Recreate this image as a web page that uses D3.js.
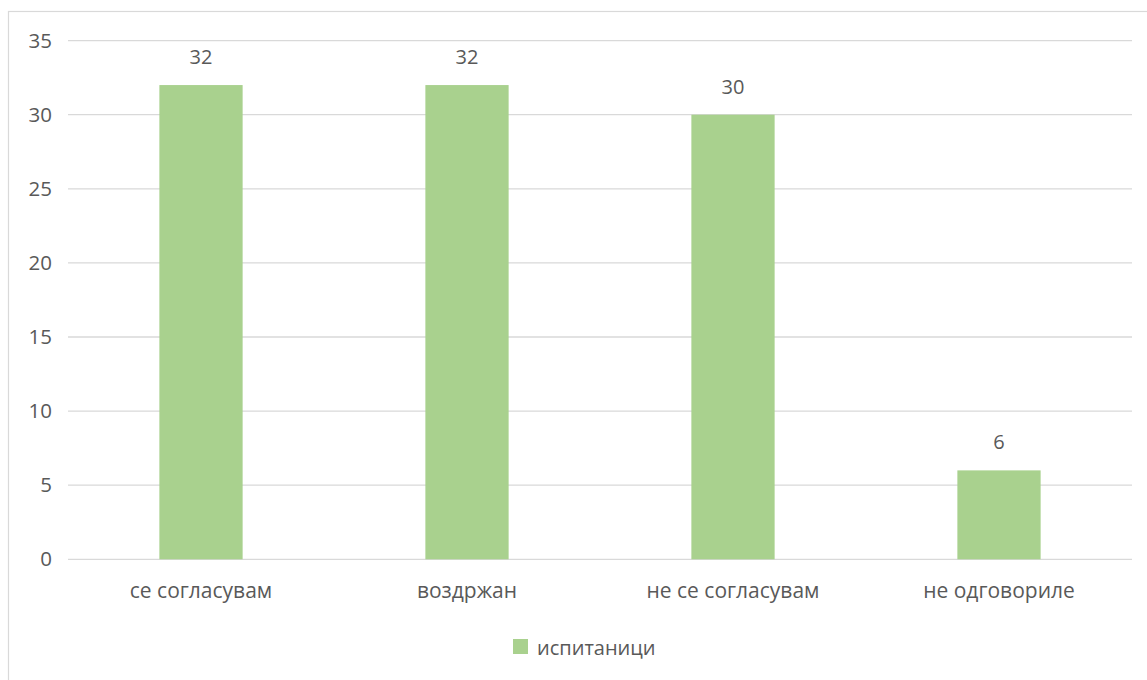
<!DOCTYPE html>
<html>
<head>
<meta charset="utf-8">
<script src="https://cdn.jsdelivr.net/npm/d3@7/dist/d3.min.js"></script>
<style>
  html, body { margin: 0; padding: 0; background: #fff; }
  svg { display: block; font-family: "Open Sans", "Noto Sans", sans-serif; }
</style>
</head>
<body>
<svg id="chart" width="1147" height="680"></svg>
<script>
// Survey answers: number of respondents per answer
const categories = ["се согласувам", "воздржан", "не се согласувам", "не одговориле"];
const values = [32, 32, 30, 6];
const seriesName = "испитаници";
const yTicks = [0, 5, 10, 15, 20, 25, 30, 35];

const svg = d3.select("#chart");
const W = 1147, H = 680;
const plot = { left: 68, right: 1132, top: 40.6, bottom: 559.3 };
const textColor = "#595959";
const barColor = "#A9D18E";
const gridColor = "#D9D9D9";

// chart frame
svg.append("rect")
  .attr("x", 8.5).attr("y", 11.5)
  .attr("width", W + 20).attr("height", H + 20)
  .attr("fill", "#fff")
  .attr("stroke", "#D9D9D9").attr("stroke-width", 1.2);

const x = d3.scaleBand()
  .domain(categories)
  .range([plot.left, plot.right])
  .paddingInner(0.687).paddingOuter(0.3435);

const y = d3.scaleLinear().domain([0, 35]).range([plot.bottom, plot.top]);

// gridlines
svg.append("g")
  .selectAll("line")
  .data(yTicks)
  .join("line")
  .attr("x1", plot.left).attr("x2", plot.right)
  .attr("y1", d => y(d)).attr("y2", d => y(d))
  .attr("stroke", gridColor).attr("stroke-width", 1.3);

// y tick labels
const yAxis = d3.axisLeft(y).tickValues(yTicks).tickSize(0).tickPadding(0);
const gy = svg.append("g").attr("transform", "translate(52,0)").call(yAxis);
gy.select(".domain").remove();
gy.selectAll("text")
  .attr("fill", textColor)
  .style("font-size", "20.5px")
  .style("font-family", "'Open Sans', sans-serif");

// bars
svg.append("g")
  .selectAll("rect")
  .data(values)
  .join("rect")
  .attr("x", (d, i) => x(categories[i]))
  .attr("width", x.bandwidth())
  .attr("y", d => y(d))
  .attr("height", d => y(0) - y(d))
  .attr("fill", barColor);

// value labels
svg.append("g")
  .selectAll("text")
  .data(values)
  .join("text")
  .attr("x", (d, i) => x(categories[i]) + x.bandwidth() / 2)
  .attr("y", d => y(d) - 21)
  .attr("text-anchor", "middle")
  .attr("fill", textColor)
  .style("font-size", "20px")
  .text(d => d);

// category axis labels
const xAxis = d3.axisBottom(x).tickSize(0).tickPadding(0);
const gx = svg.append("g").attr("transform", `translate(0,${plot.bottom})`).call(xAxis);
gx.select(".domain").remove();
gx.selectAll("text")
  .attr("dy", null)
  .attr("y", 38.7)
  .attr("fill", textColor)
  .style("font-size", "21px")
  .style("font-family", "'Open Sans', sans-serif");

// legend
const legend = svg.append("g").attr("transform", "translate(513,639)");
legend.append("rect").attr("width", 15).attr("height", 15).attr("fill", barColor);
legend.append("text")
  .attr("x", 24).attr("y", 15.5)
  .attr("fill", textColor)
  .style("font-size", "20px")
  .text(seriesName);
</script>
</body>
</html>
